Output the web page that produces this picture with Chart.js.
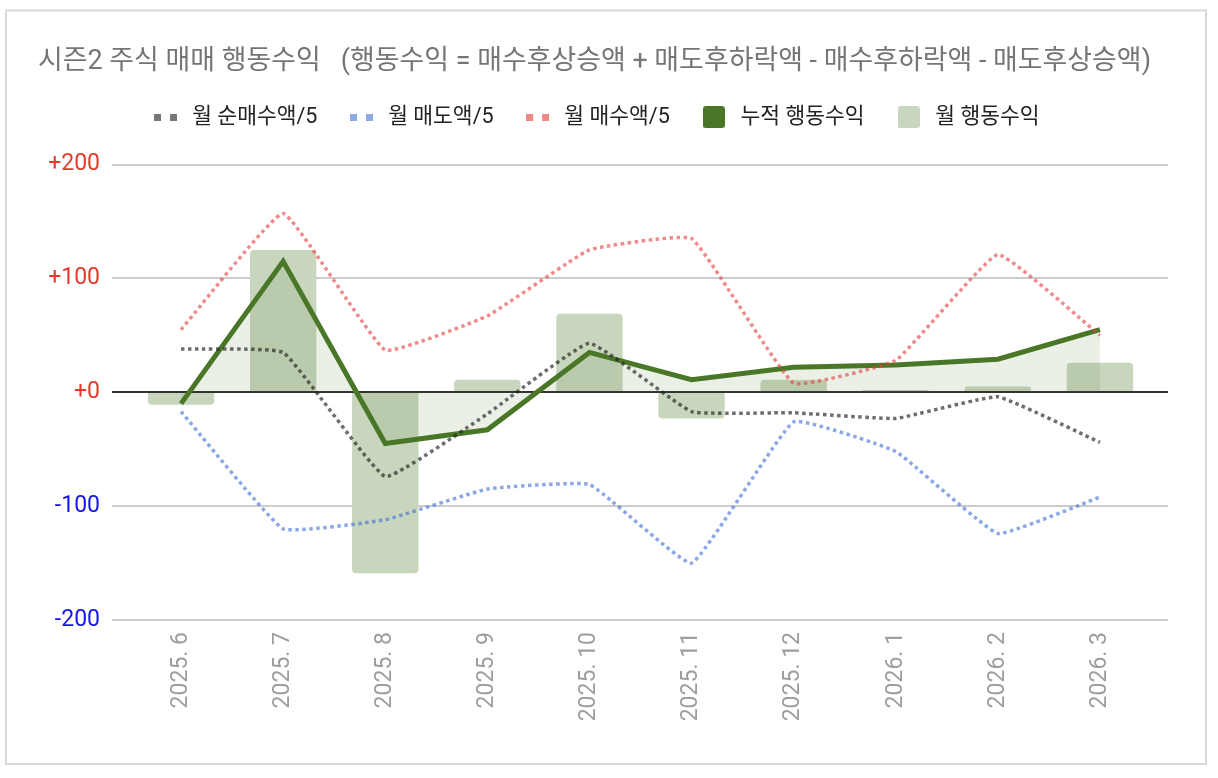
<!DOCTYPE html>
<html>
<head>
<meta charset="utf-8">
<script src="https://cdn.jsdelivr.net/npm/chart.js@4/dist/chart.umd.min.js"></script>
<style>
  body { margin: 0; background: #fff; }
  canvas { display: block; }
</style>
</head>
<body>
<canvas id="chart" width="1218" height="778"></canvas>
<script>
const months = ["2025. 6", "2025. 7", "2025. 8", "2025. 9", "2025. 10", "2025. 11", "2025. 12", "2026. 1", "2026. 2", "2026. 3"];
const netBuy = [38, 35, -74, -19, 43, -17, -18, -23, -4, -44];
const sell = [-17, -120, -112, -85, -81, -150, -26, -52, -124, -92];
const buy = [55, 157, 37, 67, 125, 135, 8, 28, 121, 50];
const cumulative = [-10, 115, -45, -33, 35, 11, 22, 24, 29, 55];
const monthly = [-11, 125, -159, 11, 69, -23, 11, 2, 5, 26];
const yTicks = [-200, -100, 0, 100, 200];

const fontFamily = "Roboto, 'Noto Sans CJK KR', sans-serif";
const darkGreen = "#4a7628";
const lightGreen = "#c8d6be";

function dotsIcon(color) {
  const c = document.createElement("canvas");
  c.width = 23; c.height = 7;
  const g = c.getContext("2d");
  g.fillStyle = color;
  g.fillRect(0, 0, 7, 7);
  g.fillRect(16, 0, 7, 7);
  return c;
}

function squareIcon(color) {
  const c = document.createElement("canvas");
  c.width = 22; c.height = 22;
  const g = c.getContext("2d");
  g.fillStyle = color;
  g.beginPath();
  g.roundRect(0, 0, 22, 22, 3);
  g.fill();
  return c;
}

const legendIcons = [dotsIcon("#777777"), dotsIcon("#8eaae0"), dotsIcon("#f08888"), squareIcon(darkGreen), squareIcon(lightGreen)];

// frame, gridlines wider than the category band, zero line right after the bars
const frameAndGrid = {
  id: "frameAndGrid",
  beforeInit(chart) {
    const fit = chart.legend.fit;
    chart.legend.fit = function() {
      fit.call(this);
      this.height += 26.6;
    };
  },
  beforeDraw(chart) {
    const ctx = chart.ctx;
    ctx.save();
    ctx.fillStyle = "#fff";
    ctx.fillRect(0, 0, chart.width, chart.height);
    ctx.strokeStyle = "#d9d9d9";
    ctx.lineWidth = 2;
    ctx.strokeRect(6, 10.5, 1200, 753.5);
    ctx.restore();
  },
  beforeDatasetsDraw(chart) {
    const { ctx, chartArea, scales: { y } } = chart;
    ctx.save();
    ctx.strokeStyle = "#cccccc";
    ctx.lineWidth = 2;
    y.ticks.forEach(t => {
      if (t.value === 0) return;
      const py = Math.round(y.getPixelForValue(t.value));
      ctx.beginPath();
      ctx.moveTo(chartArea.left - 18, py);
      ctx.lineTo(chartArea.right + 17, py);
      ctx.stroke();
    });
    ctx.restore();
  },
  afterDatasetDraw(chart, args) {
    if (args.meta.type !== "bar") return;
    const { ctx, chartArea, scales: { y } } = chart;
    const py = Math.round(y.getPixelForValue(0));
    ctx.save();
    ctx.strokeStyle = "#333333";
    ctx.lineWidth = 2;
    ctx.beginPath();
    ctx.moveTo(chartArea.left - 18, py);
    ctx.lineTo(chartArea.right + 17, py);
    ctx.stroke();
    ctx.restore();
  }
};

const dotted = { borderWidth: 3.5, borderDash: [3.5, 3.5], borderCapStyle: "butt", pointRadius: 0, tension: 0.1, fill: false };

new Chart(document.getElementById("chart"), {
  type: "bar",
  data: {
    labels: months,
    datasets: [
      { type: "line", label: "월 순매수액/5", data: netBuy, borderColor: "rgba(30,30,30,0.65)", order: 1, ...dotted },
      { type: "line", label: "월 매도액/5", data: sell, borderColor: "rgba(60,110,210,0.6)", order: 2, ...dotted },
      { type: "line", label: "월 매수액/5", data: buy, borderColor: "rgba(230,60,60,0.6)", order: 3, ...dotted },
      {
        type: "line", label: "누적 행동수익", data: cumulative, order: 4,
        borderColor: darkGreen, borderWidth: 5, pointRadius: 0, tension: 0,
        fill: "origin", backgroundColor: "rgba(74,118,40,0.11)"
      },
      {
        type: "bar", label: "월 행동수익", data: monthly, order: 5,
        backgroundColor: lightGreen, borderRadius: 4,
        categoryPercentage: 0.65, barPercentage: 1
      }
    ]
  },
  options: {
    responsive: false,
    devicePixelRatio: 1,
    animation: false,
    layout: { padding: { left: 38, right: 67, top: 0, bottom: 0 } },
    plugins: {
      title: {
        display: true,
        text: "시즌2 주식 매매 행동수익   (행동수익 = 매수후상승액 + 매도후하락액 - 매수후하락액 - 매도후상승액)",
        color: "#757575",
        font: { family: fontFamily, size: 27, weight: "normal" },
        padding: { top: 46, bottom: 0 }
      },
      legend: {
        labels: {
          usePointStyle: true,
          pointStyleWidth: 32,
          padding: 28,
          color: "#222222",
          font: { family: fontFamily, size: 21.5 },
          generateLabels(chart) {
            const items = Chart.defaults.plugins.legend.labels.generateLabels(chart);
            items.forEach(it => { it.pointStyle = legendIcons[it.datasetIndex]; });
            return items;
          }
        }
      },
      tooltip: { enabled: false }
    },
    scales: {
      x: {
        offset: true,
        grid: { display: false, drawTicks: false },
        border: { display: false },
        ticks: {
          color: "#9e9e9e",
          font: { family: fontFamily, size: 23 },
          minRotation: 90,
          maxRotation: 90,
          autoSkip: false,
          padding: 12
        },
        afterFit(s) { s.height = 158; }
      },
      y: {
        min: -200,
        max: 200,
        afterBuildTicks(s) { s.ticks = yTicks.map(v => ({ value: v })); },
        grid: { display: false, drawTicks: false },
        border: { display: false },
        ticks: {
          padding: 30,
          font: { family: fontFamily, size: 23 },
          color: ctx => ctx.tick.value >= 0 ? "#e33b2b" : "#1515f0",
          callback: v => v >= 0 ? "+" + v : String(v)
        },
        afterFit(s) { s.width = 92; }
      }
    }
  },
  plugins: [frameAndGrid]
});
</script>
</body>
</html>
